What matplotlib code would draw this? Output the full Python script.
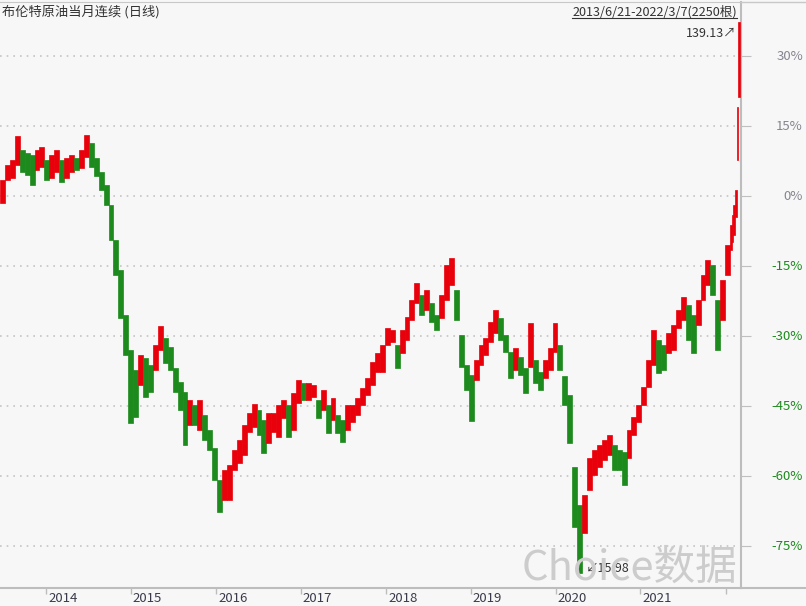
import matplotlib
matplotlib.use('Agg')
import matplotlib.pyplot as plt
import matplotlib.transforms as mtransforms
from matplotlib.lines import Line2D
import numpy as np

plt.rcParams['font.family'] = ['Noto Sans CJK SC', 'DejaVu Sans']

# Brent front-month, % change; each main column = 15 trading days (high / low)
hi_main = [3.4, 6.6, 7.7, 12.9, 9.9, 9.2, 8.8, 9.9, 10.5, 7.7,
           8.8, 9.9, 7.7, 8.1, 8.8, 8.1, 9.9, 13.1, 11.4, 8.1,
           5.1, 2.4, -1.9, -9.4, -15.9, -25.5, -33.0, -37.3, -34.1, -34.7,
           -36.2, -31.9, -27.9, -30.4, -32.4, -36.9, -39.9, -42.0, -43.7, -44.8,
           -43.7, -46.9, -50.1, -54.0, -60.9, -58.7, -57.6, -54.4, -52.3, -49.1,
           -46.5, -44.6, -45.9, -48.0, -46.5, -46.5, -44.8, -43.7, -44.8, -42.2,
           -39.4, -40.1, -40.1, -40.5, -43.7, -41.6, -44.8, -43.3, -46.9, -48.0,
           -44.8, -44.8, -43.3, -41.1, -39.0, -35.6, -33.6, -31.9, -28.3, -28.7,
           -31.9, -28.7, -25.9, -22.3, -18.6, -21.2, -20.1, -22.9, -25.5, -21.2,
           -14.8, -13.3, -20.1, -29.8, -36.2, -38.4, -35.1, -31.9, -30.4, -27.0,
           -24.4, -26.1, -29.8, -33.4, -32.6, -34.5, -36.9, -27.2, -35.1, -37.7,
           -35.1, -32.6, -27.2, -31.9, -38.6, -42.6, -58.1, -66.2, -64.1, -56.1,
           -54.4, -53.4, -52.3, -51.2, -53.4, -54.4, -54.9, -50.1, -47.4, -44.8,
           -40.9, -35.1, -28.7, -30.9, -31.9, -29.4, -27.6, -24.4, -21.6, -23.4,
           -25.5, -22.3, -16.9, -13.7, -14.8, -22.3, -18.0, -10.5]
lo_main = [-1.5, 3.4, 3.9, 6.6, 5.1, 4.5, 2.4, 5.6, 6.2, 3.4,
           3.9, 5.1, 3.0, 3.9, 5.1, 5.6, 6.0, 8.4, 6.2, 4.3,
           1.3, -1.9, -9.4, -16.9, -26.1, -34.1, -48.6, -47.4, -40.5, -43.1,
           -42.0, -37.3, -33.0, -35.8, -37.3, -42.0, -45.9, -53.4, -49.1, -49.1,
           -50.1, -52.3, -54.4, -60.9, -67.7, -65.1, -65.1, -58.7, -57.2, -55.5,
           -50.6, -49.5, -51.2, -55.1, -52.9, -50.6, -51.6, -47.6, -51.6, -50.1,
           -44.4, -43.7, -43.7, -43.1, -47.6, -45.9, -50.8, -48.0, -50.8, -52.7,
           -50.1, -48.4, -46.9, -44.8, -42.6, -40.5, -37.7, -37.7, -31.9, -31.3,
           -36.9, -33.6, -30.9, -26.6, -22.9, -25.5, -24.4, -27.0, -28.7, -26.1,
           -22.3, -19.1, -26.6, -36.6, -41.6, -48.2, -39.4, -36.2, -34.1, -31.3,
           -29.4, -30.9, -33.4, -39.0, -37.3, -38.4, -42.2, -36.6, -40.1, -41.6,
           -39.0, -37.3, -33.4, -37.3, -44.8, -52.9, -70.9, -80.8, -72.2, -63.0,
           -59.8, -58.1, -56.6, -55.5, -58.7, -58.7, -61.9, -56.1, -51.2, -48.4,
           -44.8, -40.9, -36.2, -37.9, -37.3, -33.6, -33.0, -28.3, -26.6, -30.9,
           -33.6, -27.6, -22.3, -19.1, -21.2, -33.0, -26.6, -16.9]
# last 30 trading days, 5 days per column
hi_tail = [-6.2, -4.1, -1.9, 1.3, 19.1, 37.3]
lo_tail = [-11.6, -9.9, -8.4, -4.5, 7.7, 21.2]

year_pos = [140, 398, 657, 915, 1174, 1432, 1690, 1946, 2207]
year_labels = ['2014', '2015', '2016', '2017', '2018', '2019', '2020', '2021', '']
pct_ticks = [30, 15, 0, -15, -30, -45, -60, -75]

RED = '#e8000b'
GREEN = '#1d8a1d'
BG = '#f7f7f7'

W, H = 806, 606
fig = plt.figure(figsize=(W / 100, H / 100), dpi=100, facecolor=BG)
ax = fig.add_axes([0, 18 / H, 741 / W, 586.5 / H])
ax.set_facecolor(BG)

hi = np.array(hi_main + hi_tail)
lo = np.array(lo_main + lo_tail)
width = np.array([15] * len(hi_main) + [5] * len(hi_tail))
left = np.concatenate([[0], np.cumsum(width)[:-1]])
mid = (hi + lo) / 2
colors = [RED] + [RED if mid[i] >= mid[i - 1] else GREEN for i in range(1, len(mid))]
ax.bar(left, hi - lo, bottom=lo, width=width, align='edge',
       color=colors, edgecolor=colors, linewidth=0.5, zorder=3)

ax.set_xlim(0, 2253)
ax.set_ylim(-84.0, 41.7)

# grid + spines
ax.set_yticks(pct_ticks)
ax.yaxis.grid(True, color='#c4c4c4', linestyle=(0, (1, 3)), linewidth=1.2, zorder=1)
ax.tick_params(axis='y', which='both', left=False, right=True, direction='out',
               length=7, color='#c0c0c0', labelleft=False, labelright=False)
ax.set_xticks(year_pos)
ax.tick_params(axis='x', direction='out', length=4.5, color='#bdbdbd', width=1,
               labelbottom=False)
ax.spines['left'].set_visible(False)
ax.spines['top'].set_color('#c8c8c8')
ax.spines['right'].set_color('#bdbdbd')
ax.spines['right'].set_linewidth(1.5)
ax.spines['bottom'].set_color('#bdbdbd')
ax.spines['bottom'].set_linewidth(1.5)
fig.add_artist(Line2D([741 / W, 1], [18 / H, 18 / H], color='#bdbdbd', lw=1.5))
fig.add_artist(Line2D([741 / W, 1], [604.5 / H, 604.5 / H], color='#c8c8c8', lw=1))

# right percent labels
ytr = mtransforms.blended_transform_factory(fig.transFigure, ax.transData)
for v in pct_ticks:
    c = GREEN if v < 0 else '#858590'
    ax.text(803 / W, v, f'{v}%', transform=ytr, ha='right', va='center',
            fontsize=9.5, color=c)

# year labels
xtr = mtransforms.blended_transform_factory(ax.transData, fig.transFigure)
for p, lab in zip(year_pos, year_labels):
    ax.text(p + 6, 8 / H, lab, transform=xtr, ha='left', va='center',
            fontsize=9.5, color='#3a3a4a')

# header
fig.text(2 / W, 1 - 12 / H, '布伦特原油当月连续 (日线)', ha='left', va='center',
         fontsize=9.5, color='#333333')
rng = fig.text(737 / W, 1 - 12 / H, '2013/6/21-2022/3/7(2250根)', ha='right',
               va='center', fontsize=9.1, color='#333333')

# watermark
fig.text(737 / W, 1 - 568 / H, 'Choice数据', ha='right', va='center',
         fontsize=30, color='#cccccc', zorder=0)

# extreme labels
imax = int(np.argmax(hi))
imin = int(np.argmin(lo))
ax.annotate('139.13\u2197', xy=(left[imax] + width[imax] / 2, hi[imax]),
            xytext=(-3, -11), textcoords='offset pixels', ha='right', va='center',
            fontsize=9, color='#333333', zorder=5)
ax.annotate('\u219915.98', xy=(left[imin] + width[imin] / 2, lo[imin]),
            xytext=(6, 5), textcoords='offset pixels', ha='left', va='center',
            fontsize=9, color='#333333', zorder=5)

fig.canvas.draw()
bb = rng.get_window_extent(fig.canvas.get_renderer())
fig.add_artist(Line2D([bb.x0, bb.x1], [bb.y0 + 1, bb.y0 + 1], transform=None,
                      color='#333333', lw=0.8))

fig.savefig('out.png', dpi=100, facecolor=BG)
